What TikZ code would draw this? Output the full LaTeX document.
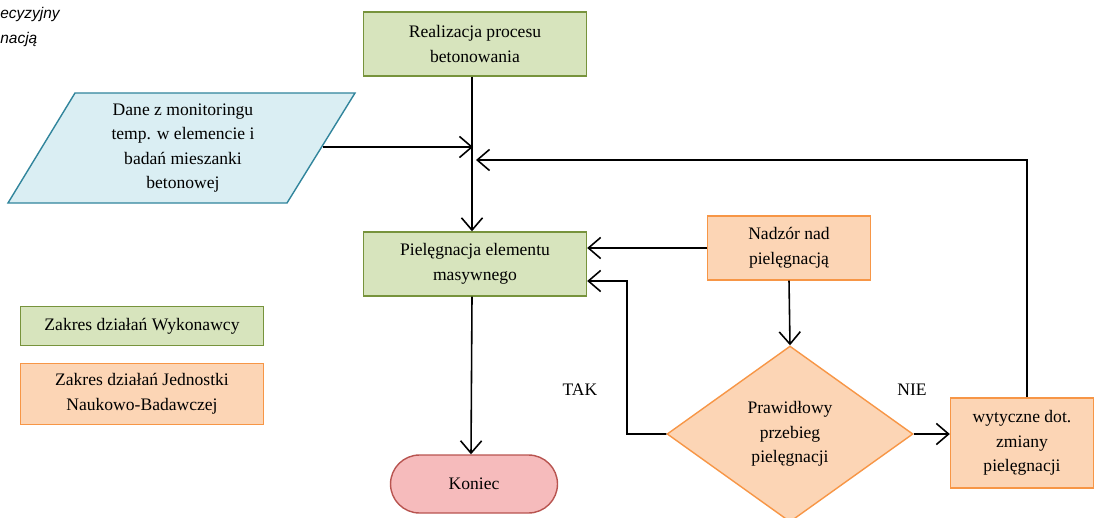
\documentclass[tikz,border=0pt]{standalone}
\usepackage{fontspec}
\setmainfont{Liberation Serif}
\newfontfamily\notefont{Liberation Sans}
\usetikzlibrary{arrows.meta,shapes.geometric}

\definecolor{zielony}{HTML}{D7E4BD}
\definecolor{zielonyram}{HTML}{77933C}
\definecolor{pomar}{HTML}{FCD5B5}
\definecolor{pomarram}{HTML}{F79646}
\definecolor{niebieski}{HTML}{DAEEF3}
\definecolor{niebram}{HTML}{31859C}
\definecolor{czerwony}{HTML}{F6BBBC}
\definecolor{czerwram}{HTML}{B85450}

\tikzset{
    wykonawca/.style={draw=zielonyram, fill=zielony, line width=0.8pt, align=center, inner sep=0pt},
    jednostka/.style={draw=pomarram, fill=pomar, line width=0.8pt, align=center, inner sep=0pt},
    strzalka/.style={-{Straight Barb[length=7pt,width=12pt]}, line width=0.9pt},
    linia/.style={line width=0.9pt}
}

\begin{document}
\begin{tikzpicture}[x=0.02cm, y=-0.02cm, font=\fontsize{10}{14}\selectfont]
    \useasboundingbox (0,0) rectangle (1094,517);

    % fragment opisu
    \node[anchor=north west, align=left, inner sep=0pt, font=\notefont\itshape\fontsize{8.8}{14}\selectfont] (opis) at (0,7) {ecyzyjny\\nacją};

    % dane wejsciowe
    \draw[draw=niebram, fill=niebieski, line width=0.8pt]
        (75,93) -- (355,93) -- (287,203) -- (8,203) -- cycle;
    \node[align=center] (dane) at (183,148) {Dane z monitoringu\\temp. w elemencie i\\badań mieszanki\\betonowej};
    \coordinate (dane-e) at (323,147);

    % bloki glowne
    \node[wykonawca, minimum width=4.46cm, minimum height=1.28cm] (realizacja) at (475,44) {Realizacja procesu\\betonowania};
    \node[wykonawca, minimum width=4.46cm, minimum height=1.28cm] (pielegnacja) at (475,264) {Pielęgnacja elementu\\masywnego};
    \node[jednostka, minimum width=3.26cm, minimum height=1.28cm] (nadzor) at (789,248) {Nadzór nad\\pielęgnacją};
    \node[jednostka, diamond, minimum width=4.92cm, minimum height=3.52cm] (decyzja) at (790,434) {Prawidłowy\\przebieg\\pielęgnacji};
    \node[jednostka, minimum width=2.86cm, minimum height=1.8cm] (wytyczne) at (1022,443) {wytyczne dot.\\zmiany\\pielęgnacji};
    \node[draw=czerwram, fill=czerwony, line width=0.8pt, rounded corners=0.58cm, minimum width=3.34cm, minimum height=1.16cm] (koniec) at (474,484) {Koniec};

    % legenda
    \node[wykonawca, minimum width=4.86cm, minimum height=0.78cm] (leg-wyk) at (142,326) {Zakres działań Wykonawcy};
    \node[jednostka, minimum width=4.86cm, minimum height=1.22cm] (leg-jed) at (142,394) {Zakres działań Jednostki\\Naukowo-Badawczej};

    % etykiety
    \node (tak) at (580,390) {TAK};
    \node (nie) at (912,390) {NIE};

    % polaczenia
    \coordinate (wejscie) at (473,147);
    \coordinate (powrot) at (476,160);
    \coordinate (tak-rog) at (627,281);
    \draw[strzalka] ([xshift=-0.06cm]realizacja.south) -- ([xshift=-0.06cm]pielegnacja.north);
    \draw[strzalka] (dane-e) -- (wejscie);
    \draw[strzalka] ([xshift=0.1cm]wytyczne.north) |- (powrot);
    \draw[strzalka] (nadzor.west) -- (nadzor.west -| pielegnacja.east);
    \draw[strzalka] (nadzor.south) -- (decyzja.north);
    \draw[strzalka] (decyzja.west) -| (tak-rog) -- ([yshift=-0.34cm]pielegnacja.east);
    \draw[strzalka] (decyzja.east) -- (decyzja.east -| wytyczne.west);
    \draw[strzalka] ([xshift=-0.06cm]pielegnacja.south) -- ([xshift=-0.06cm]koniec.north);
\end{tikzpicture}
\end{document}
